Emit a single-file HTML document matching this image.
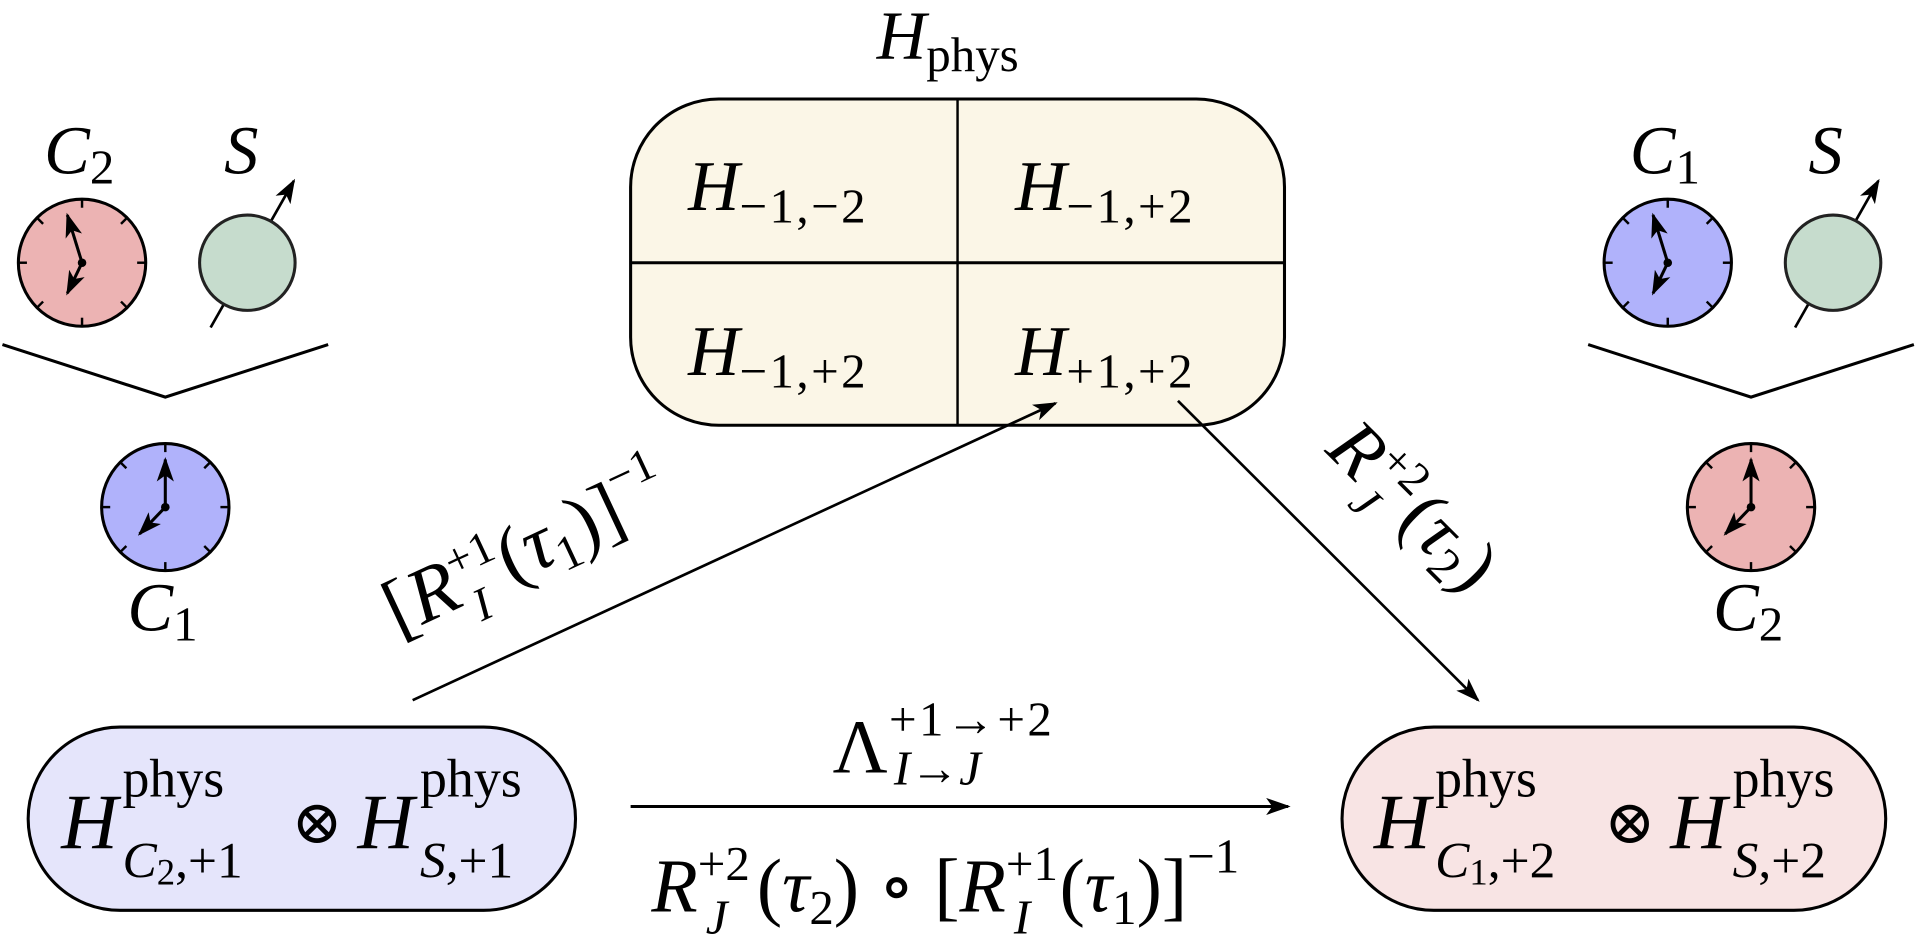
<!DOCTYPE html>
<html><head><meta charset="utf-8"><style>
html,body{margin:0;padding:0;background:#fff;}
svg{display:block;}
text{font-family:"Liberation Serif","DejaVu Serif",serif;fill:#000;}
.i{font-style:italic;}
</style></head><body>
<svg width="1920" height="936" viewBox="0 0 1568 766" preserveAspectRatio="none" xmlns="http://www.w3.org/2000/svg">
<defs>
<marker id="ah2" markerWidth="20" markerHeight="14" refX="18" refY="7" orient="auto" markerUnits="userSpaceOnUse">
<path d="M0,0 L20,7 L0,14 L5,7 Z" fill="#000"/></marker>
<g id="ticks" stroke="#000" stroke-width="2">
<line x1="0" y1="-52" x2="0" y2="-45"/><line x1="0" y1="52" x2="0" y2="45"/>
<line x1="-52" y1="0" x2="-45" y2="0"/><line x1="52" y1="0" x2="45" y2="0"/>
<line x1="36.8" y1="-36.8" x2="31.8" y2="-31.8"/><line x1="-36.8" y1="-36.8" x2="-31.8" y2="-31.8"/>
<line x1="36.8" y1="36.8" x2="31.8" y2="31.8"/><line x1="-36.8" y1="36.8" x2="-31.8" y2="31.8"/>
</g>
</defs>

<!-- Left top -->
<text x="36" y="142" font-size="56" class="i">C<tspan font-style="normal" font-size="40" dy="8">2</tspan></text>
<text x="183" y="142" font-size="56" class="i">S</text>
<circle cx="67" cy="215" r="52" fill="#ecb3b3" stroke="#000" stroke-width="2.5"/>
<use href="#ticks" transform="translate(67,215)"/>
<line x1="67" y1="215" x2="55" y2="176" stroke="#000" stroke-width="2.5" marker-end="url(#ah2)"/>
<line x1="67" y1="215" x2="55" y2="240" stroke="#000" stroke-width="2.5" marker-end="url(#ah2)"/>
<circle cx="67" cy="215" r="3.5" fill="#000"/>
<line x1="172" y1="268" x2="240" y2="148" stroke="#000" stroke-width="2.2" marker-end="url(#ah2)"/>
<circle cx="202" cy="215" r="39" fill="#c6dccd" stroke="#222" stroke-width="2.5"/>
<polyline points="2,282 135,325 268,282" fill="none" stroke="#000" stroke-width="2.5"/>
<circle cx="135" cy="415" r="52" fill="#b0b2fb" stroke="#000" stroke-width="2.5"/>
<use href="#ticks" transform="translate(135,415)"/>
<line x1="135" y1="415" x2="135" y2="376" stroke="#000" stroke-width="2.5" marker-end="url(#ah2)"/>
<line x1="135" y1="415" x2="114" y2="437" stroke="#000" stroke-width="2.5" marker-end="url(#ah2)"/>
<circle cx="135" cy="415" r="3.5" fill="#000"/>
<text x="104" y="516" font-size="56" class="i">C<tspan font-style="normal" font-size="40" dy="8">1</tspan></text>

<!-- Right top -->
<text x="1331" y="142" font-size="56" class="i">C<tspan font-style="normal" font-size="40" dy="8">1</tspan></text>
<text x="1477" y="142" font-size="56" class="i">S</text>
<circle cx="1362" cy="215" r="52" fill="#b0b2fb" stroke="#000" stroke-width="2.5"/>
<use href="#ticks" transform="translate(1362,215)"/>
<line x1="1362" y1="215" x2="1350" y2="176" stroke="#000" stroke-width="2.5" marker-end="url(#ah2)"/>
<line x1="1362" y1="215" x2="1350" y2="240" stroke="#000" stroke-width="2.5" marker-end="url(#ah2)"/>
<circle cx="1362" cy="215" r="3.5" fill="#000"/>
<line x1="1466" y1="268" x2="1534" y2="148" stroke="#000" stroke-width="2.2" marker-end="url(#ah2)"/>
<circle cx="1497" cy="215" r="39" fill="#c6dccd" stroke="#222" stroke-width="2.5"/>
<polyline points="1297,282 1430,325 1563,282" fill="none" stroke="#000" stroke-width="2.5"/>
<circle cx="1430" cy="415" r="52" fill="#ecb3b3" stroke="#000" stroke-width="2.5"/>
<use href="#ticks" transform="translate(1430,415)"/>
<line x1="1430" y1="415" x2="1430" y2="376" stroke="#000" stroke-width="2.5" marker-end="url(#ah2)"/>
<line x1="1430" y1="415" x2="1409" y2="437" stroke="#000" stroke-width="2.5" marker-end="url(#ah2)"/>
<circle cx="1430" cy="415" r="3.5" fill="#000"/>
<text x="1399" y="516" font-size="56" class="i">C<tspan font-style="normal" font-size="40" dy="8">2</tspan></text>

<!-- Center -->
<text x="716" y="48" font-size="56" class="i">H<tspan font-style="normal" font-size="40" dy="10">phys</tspan></text>
<rect x="515" y="81" width="534" height="267" rx="72" ry="72" fill="#fbf6e7" stroke="#000" stroke-width="2.5"/>
<line x1="782" y1="81" x2="782" y2="348" stroke="#000" stroke-width="2"/>
<line x1="515" y1="215" x2="1049" y2="215" stroke="#000" stroke-width="2.5"/>
<text x="562" y="172" font-size="58" class="i">H<tspan font-style="normal" font-size="40" dy="10" letter-spacing="2">−1,−2</tspan></text>
<text x="829" y="172" font-size="58" class="i">H<tspan font-style="normal" font-size="40" dy="10" letter-spacing="2">−1,+2</tspan></text>
<text x="562" y="307" font-size="58" class="i">H<tspan font-style="normal" font-size="40" dy="10" letter-spacing="2">−1,+2</tspan></text>
<text x="829" y="307" font-size="58" class="i">H<tspan font-style="normal" font-size="40" dy="10" letter-spacing="2">+1,+2</tspan></text>

<!-- Diagonal arrows -->
<line x1="337" y1="573" x2="862" y2="330" stroke="#000" stroke-width="2.2" marker-end="url(#ah2)"/>
<text transform="translate(438,468) rotate(-25)" text-anchor="middle" font-size="64"><tspan>[</tspan><tspan class="i">R</tspan><tspan font-size="38" dy="-24">+1</tspan><tspan font-size="38" class="i" dx="-34" dy="42">I</tspan><tspan dx="22" dy="-18">(</tspan><tspan class="i">τ</tspan><tspan font-size="40" dy="10">1</tspan><tspan dy="-10">)]</tspan><tspan font-size="38" dy="-30">−1</tspan></text>
<line x1="962" y1="328" x2="1207" y2="573" stroke="#000" stroke-width="2.2" marker-end="url(#ah2)"/>
<text transform="translate(1140,428) rotate(45)" text-anchor="middle" font-size="62"><tspan class="i">R</tspan><tspan font-size="38" dy="-24">+2</tspan><tspan font-size="38" class="i" dx="-34" dy="42">J</tspan><tspan dx="22" dy="-18">(</tspan><tspan class="i">τ</tspan><tspan font-size="40" dy="10">2</tspan><tspan dy="-10">)</tspan></text>

<!-- Bottom boxes -->
<rect x="23" y="595" width="447" height="150" rx="75" ry="75" fill="#e5e5fb" stroke="#000" stroke-width="2.5"/>
<text x="50" y="694" font-size="64" class="i">H</text>
<text x="100" y="652" font-size="44">phys</text>
<text x="100" y="718" font-size="42"><tspan class="i">C</tspan><tspan font-size="30" dy="6">2</tspan><tspan dy="-6">,+1</tspan></text>
<text x="238" y="690" font-size="50">⊗</text>
<text x="292" y="694" font-size="64" class="i">H</text>
<text x="343" y="652" font-size="44">phys</text>
<text x="343" y="718" font-size="42"><tspan class="i">S</tspan>,+1</text>

<rect x="1096" y="595" width="444" height="150" rx="75" ry="75" fill="#f8e4e4" stroke="#000" stroke-width="2.5"/>
<text x="1122" y="694" font-size="64" class="i">H</text>
<text x="1172" y="652" font-size="44">phys</text>
<text x="1172" y="718" font-size="42"><tspan class="i">C</tspan><tspan font-size="30" dy="6">1</tspan><tspan dy="-6">,+2</tspan></text>
<text x="1310" y="690" font-size="50">⊗</text>
<text x="1364" y="694" font-size="64" class="i">H</text>
<text x="1415" y="652" font-size="44">phys</text>
<text x="1415" y="718" font-size="42"><tspan class="i">S</tspan>,+2</text>

<!-- Horizontal arrow -->
<line x1="515" y1="660" x2="1052" y2="660" stroke="#000" stroke-width="2.5" marker-end="url(#ah2)"/>
<text x="680" y="632" font-size="62">Λ</text>
<text x="726" y="602" font-size="40" letter-spacing="2">+1→+2</text>
<text x="730" y="642" font-size="40" class="i">I<tspan font-style="normal">→</tspan>J</text>
<text x="772" y="746" text-anchor="middle" font-size="62"><tspan class="i">R</tspan><tspan font-size="40" dy="-26">+2</tspan><tspan font-size="40" class="i" dx="-36" dy="44">J</tspan><tspan dx="24" dy="-18">(</tspan><tspan class="i">τ</tspan><tspan font-size="40" dy="10">2</tspan><tspan dy="-10">) ∘ [</tspan><tspan class="i">R</tspan><tspan font-size="40" dy="-26">+1</tspan><tspan font-size="40" class="i" dx="-36" dy="44">I</tspan><tspan dx="24" dy="-18">(</tspan><tspan class="i">τ</tspan><tspan font-size="40" dy="10">1</tspan><tspan dy="-10">)]</tspan><tspan font-size="40" dy="-32">−1</tspan></text>
</svg>
</body></html>
